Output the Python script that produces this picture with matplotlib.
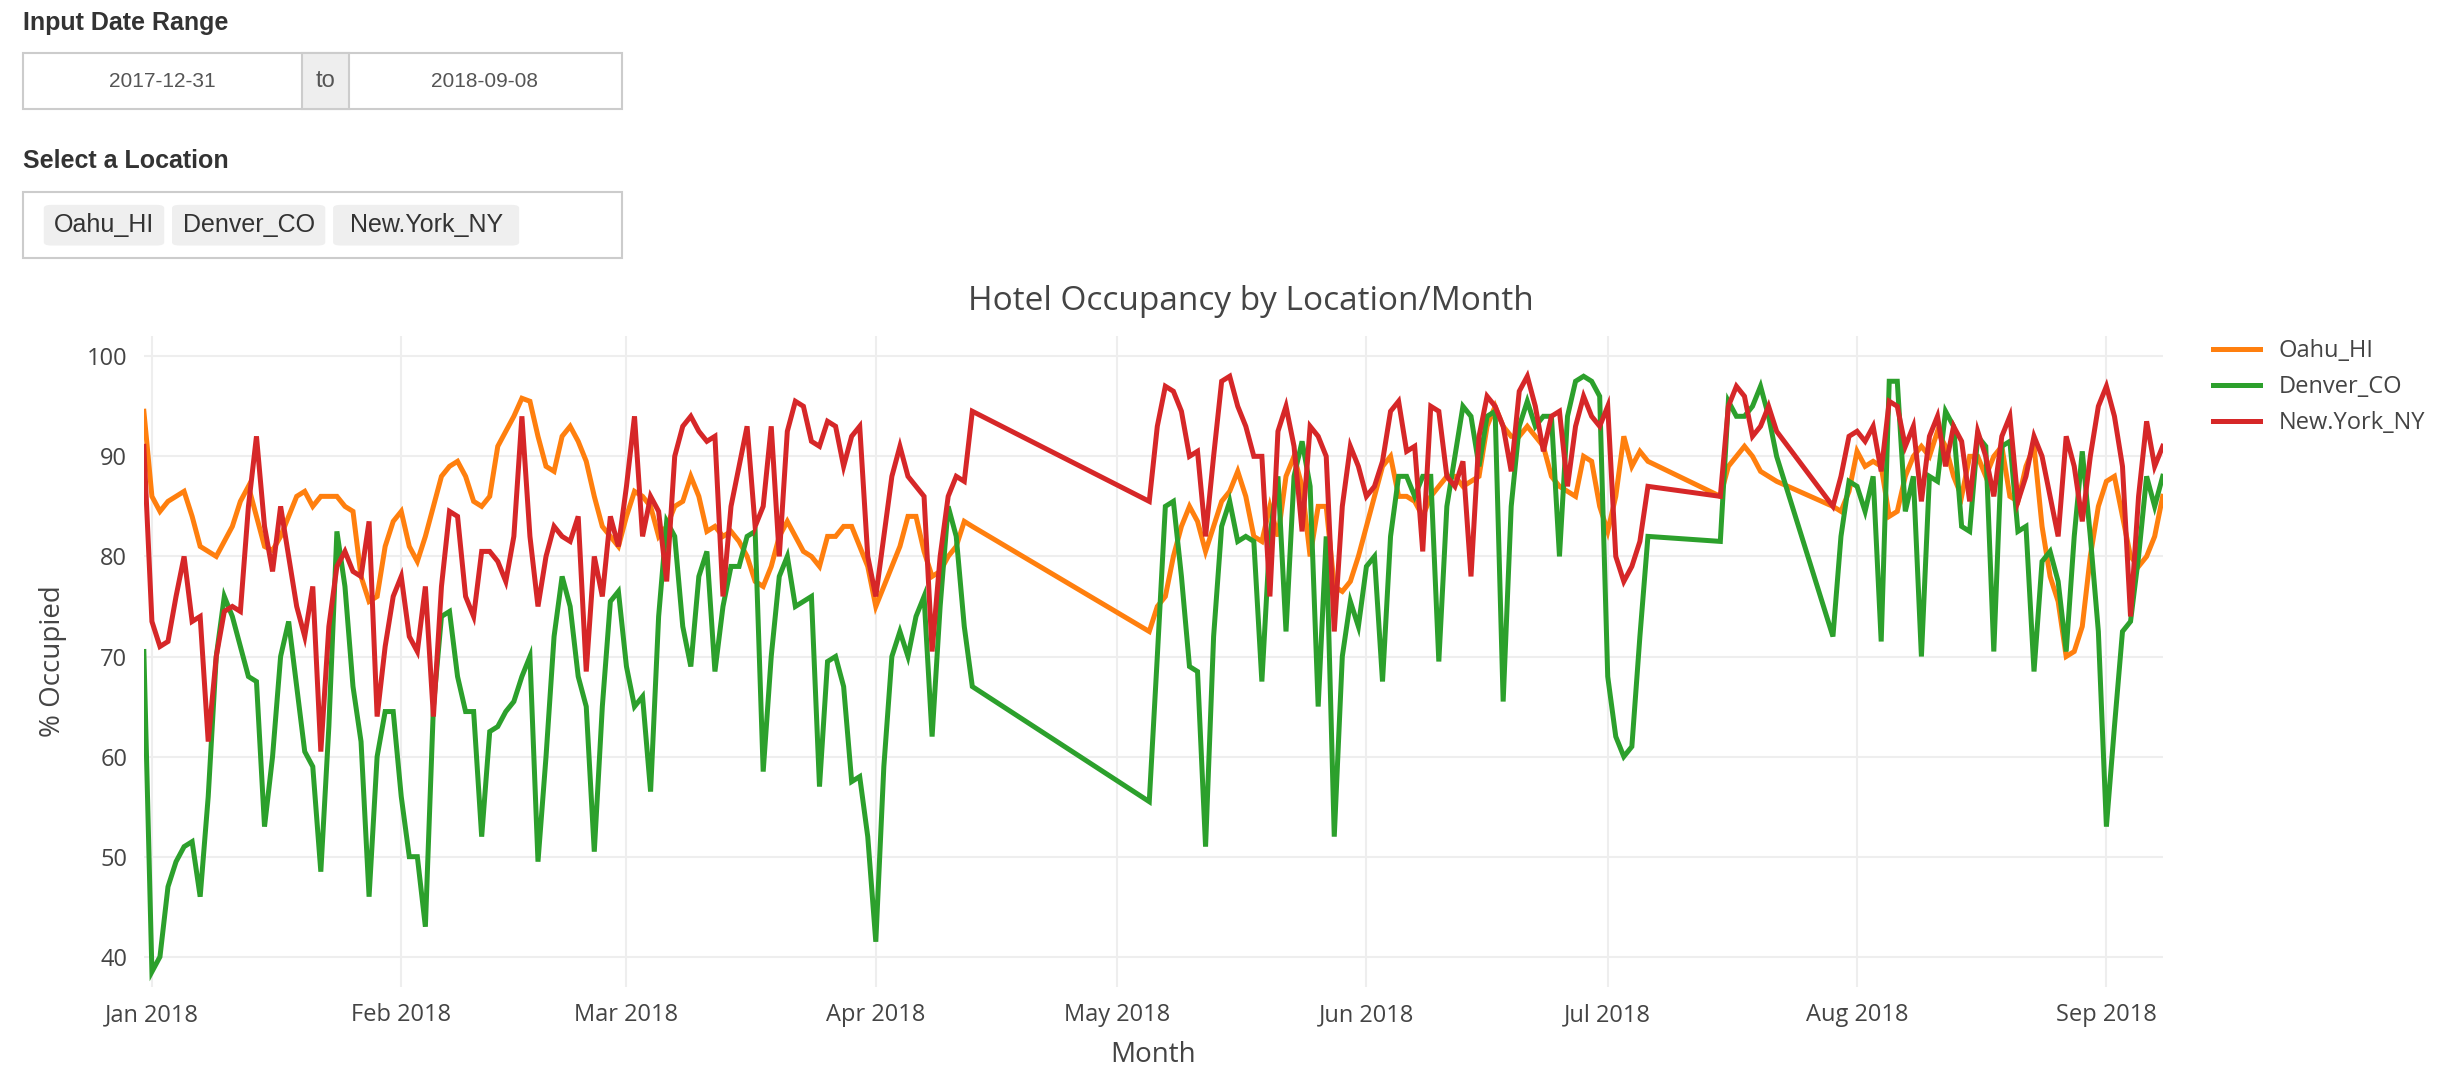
import matplotlib
matplotlib.use("Agg")
import matplotlib.pyplot as plt
import matplotlib.dates as mdates
from matplotlib.patches import FancyBboxPatch, Rectangle
import pandas as pd

plt.rcParams['font.family'] = ['Open Sans', 'DejaVu Sans']

# ---- data: four daily segments with gaps between them ----
seg_starts = ["2017-12-31", "2018-05-05", "2018-07-15", "2018-07-29"]

oahu = [
    [94.5, 86, 84.5, 85.5, 86, 86.5, 84, 81, 80.5, 80, 81.5, 83, 85.5, 87, 84, 81, 80.6, 82, 84, 86,
     86.5, 85, 86, 86, 86, 85, 84.5, 78, 75.5, 76, 81, 83.5, 84.5, 81, 79.5, 82, 85, 88, 89, 89.5,
     88, 85.5, 85, 86, 91, 92.5, 94, 95.8, 95.5, 92, 89, 88.5, 92, 93, 91.5, 89.5, 86, 83, 82, 81,
     84, 86.5, 86, 85, 82, 83, 85, 85.5, 88, 86, 82.5, 83, 82, 82.5, 81.5, 80, 77.5, 77, 79, 82,
     83.5, 82, 80.5, 80, 79, 82, 82, 83, 83, 81, 79, 75, 77, 79, 81, 84, 84, 80.5, 78, 78.5,
     80, 81, 83.5, 83],
    [72.5, 75, 76, 80, 83, 85, 83.5, 80.5, 83, 85.5, 86.5, 88.5, 86, 82, 81.5, 85, 82, 88, 90, 87,
     80, 85, 85, 77, 76.5, 77.5, 80, 83, 86, 89, 90, 86, 86, 85.5, 84, 86, 87, 88, 88, 87,
     87.5, 88, 93, 95, 93, 92, 92, 93, 92, 91, 88, 87, 86.5, 86, 90, 89.5, 85, 82.5, 86, 92,
     89, 90.5, 89.5],
    [86, 89, 90, 91, 90, 88.5, 88, 87.5],
    [85, 84.5, 86.5, 90.5, 89, 89.5, 89, 84, 84.5, 88, 90, 91, 90, 92.5, 91, 88, 86, 90, 90, 88,
     90, 91, 86, 85.5, 89, 91, 83, 78, 75.5, 70, 70.5, 73, 80, 85, 87.5, 88, 84, 80, 79, 80,
     82, 86],
]

denver = [
    [70.5, 38.5, 40, 47, 49.5, 51, 51.5, 46, 56, 70, 76, 74, 71, 68, 67.5, 53, 60, 70, 73.5, 67,
     60.5, 59, 48.5, 63, 82.5, 77, 67, 61.5, 46, 60, 64.5, 64.5, 56, 50, 50, 43, 65, 74, 74.5, 68,
     64.5, 64.5, 52, 62.5, 63, 64.5, 65.5, 68, 70, 49.5, 60, 72, 78, 75, 68, 65, 50.5, 65, 75.5, 76.5,
     69, 65, 66, 56.5, 74, 83.5, 82, 73, 69, 78, 80.5, 68.5, 75, 79, 79, 82, 82.5, 58.5, 70, 78,
     80, 75, 75.5, 76, 57, 69.5, 70, 67, 57.5, 58, 52, 41.5, 59, 70, 72.5, 70, 74, 76, 62, 75,
     85, 82, 73, 67],
    [55.5, 70, 85, 85.5, 78, 69, 68.5, 51, 72, 83, 85.5, 81.5, 82, 81.5, 67.5, 82, 88, 72.5, 88, 91.5,
     87, 65, 82, 52, 70, 75.5, 73, 79, 80, 67.5, 82, 88, 88, 86, 88, 88, 69.5, 85, 90, 95,
     94, 89, 94, 94.5, 65.5, 85, 93, 95.5, 93, 94, 94, 80, 94, 97.5, 98, 97.5, 96, 68, 62, 60,
     61, 72, 82],
    [81.5, 95.5, 94, 94, 95, 97, 94, 90],
    [72, 82, 87.5, 87, 84.5, 88, 71.5, 97.5, 97.5, 84.5, 88, 70, 88, 87.5, 94.5, 93, 83, 82.5, 92, 91,
     70.5, 91, 91.5, 82.5, 83, 68.5, 79.5, 80.5, 77.5, 70.5, 82, 90.5, 82, 72.5, 53, 63, 72.5, 73.5, 80, 88,
     85, 88],
]

new_york = [
    [91, 73.5, 71, 71.5, 76, 80, 73.5, 74, 61.5, 70, 74.5, 75, 74.5, 85, 92, 83, 78.5, 85, 80, 75,
     72, 77, 60.5, 73, 79, 80.5, 78.5, 78, 83.5, 64, 71, 76, 78, 72, 70.5, 77, 64, 77, 84.5, 84,
     76, 74, 80.5, 80.5, 79.5, 77.5, 82, 94, 82, 75, 80, 83, 82, 81.5, 84, 68.5, 80, 76, 84, 81,
     87, 94, 82, 86, 84.5, 77.5, 90, 93, 94, 92.5, 91.5, 92, 76, 85, 89, 93, 83, 85, 93, 80,
     92.5, 95.5, 95, 91.5, 91, 93.5, 93, 89, 92, 93, 80, 76, 82, 88, 91, 88, 87, 86, 70.5, 80,
     86, 88, 87.5, 94.5],
    [85.5, 93, 97, 96.5, 94.5, 90, 90.5, 82, 90, 97.5, 98, 95, 93, 90, 90, 76, 92.5, 95, 91, 82.5,
     93, 92, 90, 72.5, 85, 91, 89, 86, 87, 89.5, 94.5, 95.5, 90.5, 91, 80.5, 95, 94.5, 88, 87, 89.5,
     78, 92, 96, 95, 93, 88.5, 96.5, 98, 95, 90.5, 94, 94.5, 87, 93, 96, 94, 93, 95, 80, 77.5,
     79, 81.5, 87],
    [86, 95, 97, 96, 92, 93, 95, 92.5],
    [85, 88, 92, 92.5, 91.5, 93, 88.5, 95.5, 95, 91, 93, 85.5, 92, 94, 89, 93, 91.5, 85.5, 92.5, 90,
     86, 92, 94, 85.5, 88, 92, 90, 86, 82, 92, 89, 83.5, 90, 95, 97, 94, 89, 74, 86, 93.5,
     89, 91],
]

locations = ["Oahu_HI", "Denver_CO", "New.York_NY"]
colors = ["#ff7f0e", "#2ca02c", "#d62728"]
month_ticks = ["2018-01-01", "2018-02-01", "2018-03-01", "2018-04-01", "2018-05-01",
               "2018-06-01", "2018-07-01", "2018-08-01", "2018-09-01"]


def build_series(segments):
    dates, vals = [], []
    for start, seg in zip(seg_starts, segments):
        dates.extend(pd.date_range(start, periods=len(seg), freq="D"))
        vals.extend(seg)
    return dates, vals


fig = plt.figure(figsize=(24.52, 10.9), dpi=100)

# ---- input widgets at the top ----
lab_font = dict(family=['Liberation Sans', 'DejaVu Sans'], fontweight='bold', fontsize=18, color='#333333')
W, H = 1568.0, 697.0


def fx(px):
    return px / W


def fy(py):
    return 1 - py / H


fig.text(fx(15), fy(15), "Input Date Range", va='center', ha='left', **lab_font)
fig.patches.append(Rectangle((fx(15), fy(70)), fx(383), 36 / H, transform=fig.transFigure,
                             facecolor='white', edgecolor='#cccccc', lw=1.5))
fig.patches.append(Rectangle((fx(193), fy(70)), fx(30), 36 / H, transform=fig.transFigure,
                             facecolor='#eeeeee', edgecolor='#cccccc', lw=1.5))
dfont = dict(family=['Liberation Sans', 'DejaVu Sans'], fontsize=15, color='#555555', va='center', ha='center')
fig.text(fx(104), fy(52), "2017-12-31", **dfont)
fig.text(fx(208), fy(52), "to", **dict(dfont, fontsize=17))
fig.text(fx(310), fy(52), "2018-09-08", **dfont)

fig.text(fx(15), fy(103), "Select a Location", va='center', ha='left', **lab_font)
fig.patches.append(Rectangle((fx(15), fy(165)), fx(383), 42 / H, transform=fig.transFigure,
                             facecolor='white', edgecolor='#cccccc', lw=1.5))
for (x0, x1), name in zip([(28, 105), (110, 208), (213, 332)], locations):
    fig.patches.append(FancyBboxPatch((fx(x0), fy(157)), fx(x1 - x0), 26 / H,
                                      boxstyle="round,pad=0,rounding_size=0.003",
                                      transform=fig.transFigure, facecolor='#efefef', edgecolor='none'))
    fig.text(fx((x0 + x1) / 2), fy(144), name, family=['Liberation Sans', 'DejaVu Sans'],
             fontsize=18, color='#333333', va='center', ha='center')

# ---- chart ----
ax = fig.add_axes([fx(92), fy(631), fx(1383 - 92), 416 / H])
for segs, name, c in zip([oahu, denver, new_york], locations, colors):
    d, v = build_series(segs)
    ax.plot(d, v, color=c, lw=3.6, label=name, solid_joinstyle='miter')

ax.set_xlim(pd.Timestamp("2017-12-31"), pd.Timestamp("2018-09-08"))
ax.set_ylim(37, 102)
ax.set_yticks(range(40, 101, 10))
ax.set_xticks(pd.to_datetime(month_ticks))
ax.xaxis.set_major_formatter(mdates.DateFormatter("%b %Y"))
ax.grid(True, color='#eeeeee', lw=1.5)
ax.set_axisbelow(True)
for s in ax.spines.values():
    s.set_visible(False)
ax.tick_params(length=0, labelsize=17, colors='#444444', pad=12)
ax.set_xlabel("Month", fontsize=20, color='#444444', labelpad=10)
ax.set_ylabel("% Occupied", fontsize=20, color='#444444', labelpad=14)
fig.text(0.51, fy(193), "Hotel Occupancy by Location/Month", fontsize=24, color='#444444',
         ha='center', va='center')

ax.legend(loc='upper left', bbox_to_anchor=(1.02, 1.01), frameon=False, fontsize=17,
          handlelength=2.0, labelcolor='#444444', borderaxespad=0)

fig.savefig("out.png", dpi=100)
